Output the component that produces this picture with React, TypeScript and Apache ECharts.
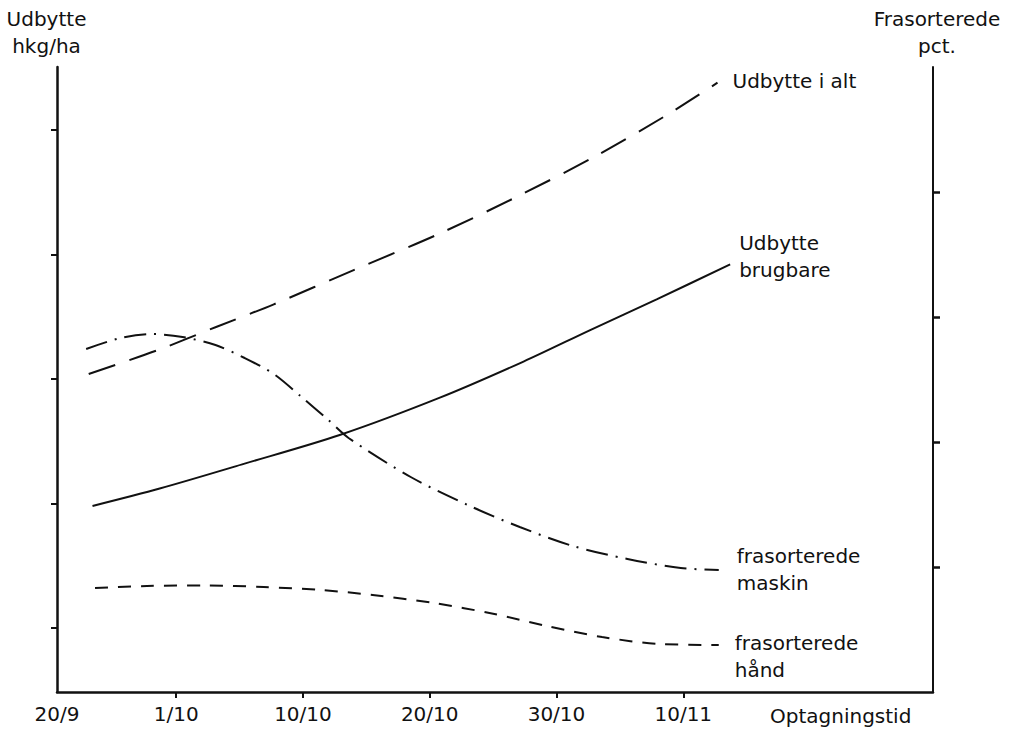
import React, { useEffect, useRef } from "react";
import * as echarts from "echarts";

// X: days after 21/9 (1/10 = day 10, one label per 10 days)
const xMinDay = 0.6;
const xMaxDay = 69.7;
const xTickDays = [10, 20, 30, 40, 50];
const xLabelDays = [0.6, 10, 20, 30, 40, 50];
const xLabels = ["20/9", "1/10", "10/10", "20/10", "30/10", "10/11"];

// Left axis: yield hkg/ha
const leftMin = 48.6;
const leftMax = 550.6;
const leftTicks = [100, 200, 300, 400, 500];
// Right axis: discarded pct.
const rightMin = 0;
const rightMax = 25;
const rightTicks = [5, 10, 15, 20];

const totalDays = [3.1, 8.5, 13.2, 17.7, 24.0, 30.6, 36.6, 42.9, 48.7, 52.7];
const totalYield = [304, 323, 342, 360, 387.5, 416, 445, 478, 512, 538];

const usableDays = [3.4, 8.7, 15.4, 22.9, 30.8, 37.4, 42.7, 47.9, 53.7];
const usableYield = [198, 212, 232, 255, 285, 314, 339.5, 364, 392];

const machineDays = [2.9, 5.6, 8.0, 10.5, 13.1, 15.4, 17.7, 19.8, 22.0, 23.6, 28.5, 33.0, 37.1, 41.3, 45.6, 49.8, 52.8];
const machinePct = [13.72, 14.16, 14.32, 14.2, 13.88, 13.36, 12.72, 11.84, 10.88, 10.16, 8.6, 7.48, 6.6, 5.84, 5.32, 4.96, 4.88];

const handDays = [3.6, 7.7, 12.4, 16.9, 21.4, 25.5, 30.3, 35.1, 39.2, 43.6, 48.1, 52.8];
const handPct = [4.16, 4.24, 4.26, 4.2, 4.08, 3.88, 3.56, 3.12, 2.64, 2.2, 1.92, 1.88];

const FONT = "DejaVu Sans";
const INK = "#111";

const zip = (xs: number[], ys: number[]) => xs.map((x, i) => [x, ys[i]]);

export default function App() {
  const ref = useRef<HTMLDivElement>(null);
  useEffect(() => {
    if (!ref.current) return;
    const chart = echarts.init(ref.current, undefined, { renderer: "svg" });
    const txt = { color: INK, fontFamily: FONT, fontSize: 20 };
    const lbl = (text: string, dist: number, dy: number) => ({
      show: true,
      formatter: text,
      distance: dist,
      offset: [0, dy],
      align: "left",
      ...txt,
      lineHeight: 27,
    });
    const line = (
      name: string,
      data: number[][],
      yIdx: number,
      type: any,
      label: any
    ) => ({
      name,
      type: "line",
      yAxisIndex: yIdx,
      data,
      smooth: 0.3,
      showSymbol: false,
      symbol: "none",
      lineStyle: { color: INK, width: 2, type },
      endLabel: label,
      silent: true,
    });
    chart.setOption({
      animation: false,
      backgroundColor: "#fff",
      grid: { left: 57, right: 77, top: 67, bottom: 38 },
      xAxis: {
        type: "value",
        min: xMinDay,
        max: xMaxDay,
        name: "Optagningstid",
        nameLocation: "end",
        nameGap: -163,
        nameTextStyle: { ...txt, align: "left", verticalAlign: "top", padding: [14, 0, 0, 0] },
        axisLine: { show: true, lineStyle: { color: INK, width: 2.5 } },
        axisTick: { show: true, customValues: xTickDays, length: 6, lineStyle: { color: INK, width: 2 } },
        axisLabel: {
          customValues: xLabelDays,
          showMinLabel: true,
          margin: 12,
          ...txt,
          formatter: (v: number) => {
            const i = xLabelDays.findIndex((d) => Math.abs(d - v) < 1e-6);
            return i >= 0 ? xLabels[i] : "";
          },
        },
        splitLine: { show: false },
      },
      yAxis: [
        {
          type: "value",
          position: "left",
          min: leftMin,
          max: leftMax,
          name: "Udbytte\nhkg/ha",
          nameLocation: "end",
          nameGap: 8,
          nameTextStyle: { ...txt, lineHeight: 27, align: "center", padding: [0, 21, 0, 0] },
          axisLine: { show: true, lineStyle: { color: INK, width: 2.5 } },
          axisTick: { show: true, customValues: leftTicks, length: 6, lineStyle: { color: INK, width: 2 } },
          axisLabel: { show: false },
          splitLine: { show: false },
        },
        {
          type: "value",
          position: "right",
          min: rightMin,
          max: rightMax,
          name: "Frasorterede\npct.",
          nameLocation: "end",
          nameGap: 8,
          nameTextStyle: { ...txt, lineHeight: 27, align: "center", padding: [0, 0, 0, 8] },
          axisLine: { show: true, lineStyle: { color: INK, width: 2 } },
          axisTick: { show: true, customValues: rightTicks, length: 7, lineStyle: { color: INK, width: 2.5 } },
          axisLabel: { show: false },
          splitLine: { show: false },
        },
      ],
      series: [
        line("Udbytte i alt", zip(totalDays, totalYield), 0, [28, 15], lbl("Udbytte i alt", 15, -2)),
        line("Udbytte brugbare", zip(usableDays, usableYield), 0, "solid", lbl("Udbytte\nbrugbare", 9, -8)),
        line("frasorterede maskin", zip(machineDays, machinePct), 1, [22, 8, 2, 8], lbl("frasorterede\nmaskin", 18, -1)),
        line("frasorterede hånd", zip(handDays, handPct), 1, [13, 10], lbl("frasorterede\nhånd", 16, 11)),
      ],
    });
    return () => chart.dispose();
  }, []);
  return (
    <div
      ref={ref}
      style={{ position: "fixed", left: 0, top: 0, width: 1010, height: 730, background: "#fff" }}
    />
  );
}
